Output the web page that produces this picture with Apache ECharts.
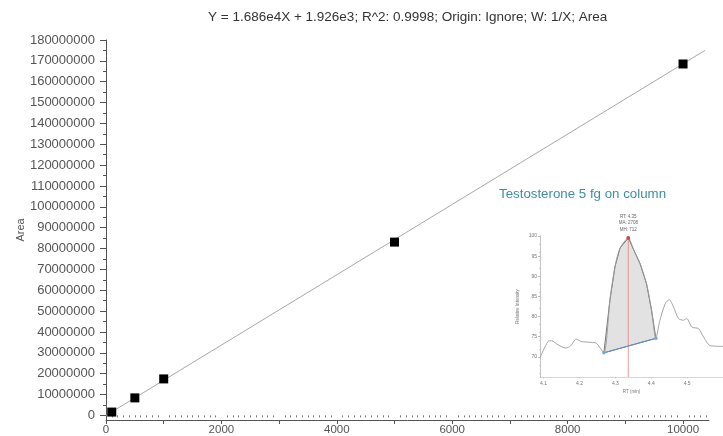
<!DOCTYPE html>
<html><head><meta charset="utf-8">
<script src="https://cdn.jsdelivr.net/npm/echarts@6/dist/echarts.min.js"></script>
<style>html,body{margin:0;padding:0;background:#fff}#c{width:723px;height:436px}</style>
</head><body><div id="c"></div>
<script>
// ---------- main calibration data ----------
const titleText = 'Y = 1.686e4X + 1.926e3; R^2: 0.9998; Origin: Ignore; W: 1/X; Area';
const yAxisName = 'Area';
const concX = [100, 500, 1000, 5000, 10000];
const areaY = [1.6e6, 8.4e6, 17.5e6, 83.1e6, 168.5e6];
const fitX = [0, 10380];
const fitY = [1926, 175008726];
const xTickLabels = [0, 2000, 4000, 6000, 8000, 10000];
const yTickLabels = [0, 10000000, 20000000, 30000000, 40000000, 50000000, 60000000, 70000000, 80000000, 90000000,
  100000000, 110000000, 120000000, 130000000, 140000000, 150000000, 160000000, 170000000, 180000000];

// ---------- inset chromatogram data ----------
const insetCaption = 'Testosterone 5 fg on column';
const traceRT = [4.09, 4.112, 4.122, 4.14, 4.162, 4.175, 4.191, 4.205, 4.233, 4.247, 4.268, 4.285, 4.299, 4.313,
  4.336, 4.35, 4.369, 4.387, 4.401, 4.413, 4.424, 4.439, 4.45, 4.462, 4.476, 4.49, 4.499, 4.513, 4.532, 4.546, 4.564, 4.6];
const traceInt = [69.8, 73.8, 74.0, 73.0, 72.2, 72.7, 74.4, 73.8, 73.6, 73.4, 71.0, 84.2, 92.4, 97.0,
  99.5, 96.8, 93.1, 88.1, 81.5, 74.6, 79.0, 83.2, 84.2, 82.4, 79.5, 79.1, 79.5, 77.4, 77.0, 74.9, 72.8, 72.6];
const peakRange = [4.268, 4.413];
const baselineRT = [4.268, 4.413];
const baselineInt = [71.0, 74.6];
const apexRT = 4.336;
const apexInt = 99.5;
const apexText = ['RT: 4.35', 'MA: 2708', 'MH: 712'];
const insetXTicks = [4.1, 4.2, 4.3, 4.4, 4.5];
const insetYTicks = [70, 75, 80, 85, 90, 95, 100];
const insetXName = 'RT (min)';
const insetYName = 'Relative Intensity';

// ---------- build ----------
const X_MAX = 10450, Y_MIN = -2.2e6, Y_MAX = 180e6;
const xMinorTicks = []; for (let v = 100; v <= 10400; v += 100) if (v % 1000 !== 0) xMinorTicks.push(v);
const xMajorTicks = []; for (let v = 0; v <= 10000; v += 1000) xMajorTicks.push(v);
const yMinorTicks = yTickLabels.slice(0, -1).map(v => v + 5e6);

const pts = concX.map((x, i) => [x, areaY[i]]);
const fit = fitX.map((x, i) => [x, fitY[i]]);
const trace = traceRT.map((x, i) => [x, traceInt[i]]);
const peakPoly = trace.filter(p => p[0] >= peakRange[0] - 1e-9 && p[0] <= peakRange[1] + 1e-9);
const baseline = baselineRT.map((x, i) => [x, baselineInt[i]]);

const axisCol = '#555';
const chart = echarts.init(document.getElementById('c'), null, {renderer: 'canvas'});
chart.setOption({
  animation: false,
  backgroundColor: '#fff',
  textStyle: {fontFamily: 'Liberation Sans, Arial, sans-serif'},
  title: [
    {text: titleText, left: 203, top: 5, textStyle: {fontSize: 13.5, fontWeight: 'normal', color: '#333'}},
    {text: insetCaption, left: 494, top: 183, textStyle: {fontSize: 13.3, fontWeight: 'normal', color: '#3d8ea5'}}
  ],
  grid: [
    {left: 106, right: 14, top: 40, bottom: 15},
    {left: 540, right: 0, top: 236, bottom: 59}
  ],
  xAxis: [
    {gridIndex: 0, type: 'value', min: 0, max: X_MAX,
     axisLine: {show: true, onZero: false, lineStyle: {color: axisCol, width: 1}},
     axisTick: {show: true, customValues: xMajorTicks, length: 4, lineStyle: {color: axisCol}},
     axisLabel: {customValues: xTickLabels, margin: 4, fontSize: 11.5, color: '#555',
       formatter: v => String(Math.round(v))},
     splitLine: {show: false}},
    {gridIndex: 0, type: 'value', min: 0, max: X_MAX, position: 'bottom',
     axisLine: {show: false},
     axisTick: {show: true, customValues: xMinorTicks, length: 2, lineStyle: {color: '#777'}},
     axisLabel: {show: false}, splitLine: {show: false}},
    {gridIndex: 1, type: 'value', min: 4.09, max: 4.6,
     name: insetXName, nameLocation: 'middle', nameGap: 12, nameMoveOverlap: false,
     nameTextStyle: {fontSize: 4.5, color: '#777'},
     axisLine: {show: true, onZero: false, lineStyle: {color: '#bbb', width: 0.6}},
     axisTick: {show: true, customValues: insetXTicks, length: 1.5, lineStyle: {color: '#bbb', width: 0.6}},
     axisLabel: {customValues: insetXTicks, margin: 4, fontSize: 5, color: '#777'},
     splitLine: {show: false}}
  ],
  yAxis: [
    {gridIndex: 0, type: 'value', min: Y_MIN, max: Y_MAX,
     name: yAxisName, nameLocation: 'middle', nameGap: 80, nameRotate: 90, nameMoveOverlap: false,
     nameTextStyle: {fontSize: 11, color: '#555'},
     axisLine: {show: true, onZero: false, lineStyle: {color: axisCol, width: 1}},
     axisTick: {show: true, customValues: yTickLabels, length: 6, lineStyle: {color: axisCol}},
     axisLabel: {customValues: yTickLabels, margin: 11, fontSize: 13, color: '#555',
       formatter: v => String(Math.round(v))},
     splitLine: {show: false}},
    {gridIndex: 0, type: 'value', min: Y_MIN, max: Y_MAX, position: 'left',
     axisLine: {show: false},
     axisTick: {show: true, customValues: yMinorTicks, length: 3, lineStyle: {color: axisCol}},
     axisLabel: {show: false}, splitLine: {show: false}},
    {gridIndex: 1, type: 'value', min: 65, max: 100,
     name: insetYName, nameLocation: 'middle', nameGap: 20, nameRotate: 90, nameMoveOverlap: false,
     nameTextStyle: {fontSize: 4.5, color: '#777'},
     axisLine: {show: true, onZero: false, lineStyle: {color: '#999', width: 0.6}},
     axisTick: {show: true, customValues: insetYTicks, length: 2, lineStyle: {color: '#999', width: 0.6}},
     minorTick: {show: true, splitNumber: 5, length: 1, lineStyle: {color: '#aaa', width: 0.5}},
     axisLabel: {customValues: insetYTicks, margin: 3, fontSize: 5, color: '#777'},
     splitLine: {show: false}}
  ],
  series: [
    {type: 'line', xAxisIndex: 0, yAxisIndex: 0, data: fit, showSymbol: false, silent: true,
     lineStyle: {color: '#a8a8a8', width: 1}, z: 1},
    {type: 'scatter', xAxisIndex: 0, yAxisIndex: 0, data: pts, symbol: 'rect', symbolSize: 9,
     itemStyle: {color: '#000', opacity: 1}, z: 3},
    {type: 'custom', xAxisIndex: 2, yAxisIndex: 2, data: [peakPoly[0]], z: 2,
     renderItem: function (params, api) {
       if (params.dataIndex !== 0) return null;
       return {type: 'polygon', shape: {points: peakPoly.map(p => api.coord(p))},
         style: {fill: '#e2e2e2', stroke: '#666', lineWidth: 0.9}};
     }},
    {type: 'line', xAxisIndex: 2, yAxisIndex: 2, data: trace, showSymbol: false, smooth: 0.25,
     lineStyle: {color: '#9a9a9a', width: 0.9}, z: 3},
    {type: 'line', xAxisIndex: 2, yAxisIndex: 2, data: [[apexRT, 65], [apexRT, apexInt]], showSymbol: false,
     lineStyle: {color: '#e58080', width: 0.8}, z: 4},
    {type: 'line', xAxisIndex: 2, yAxisIndex: 2, data: baseline, symbol: 'circle', symbolSize: 3.5,
     itemStyle: {color: '#7aa6d6'}, lineStyle: {color: '#5b8fd0', width: 1}, z: 5},
    {type: 'scatter', xAxisIndex: 2, yAxisIndex: 2, data: [[apexRT, apexInt]], symbolSize: 4,
     itemStyle: {color: '#c94b4b', opacity: 1}, z: 6,
     label: {show: true, position: 'top', distance: 3, formatter: apexText.join('\n'),
       fontSize: 4.5, lineHeight: 6.5, color: '#666', align: 'center'}}
  ]
});
</script>
</body></html>
